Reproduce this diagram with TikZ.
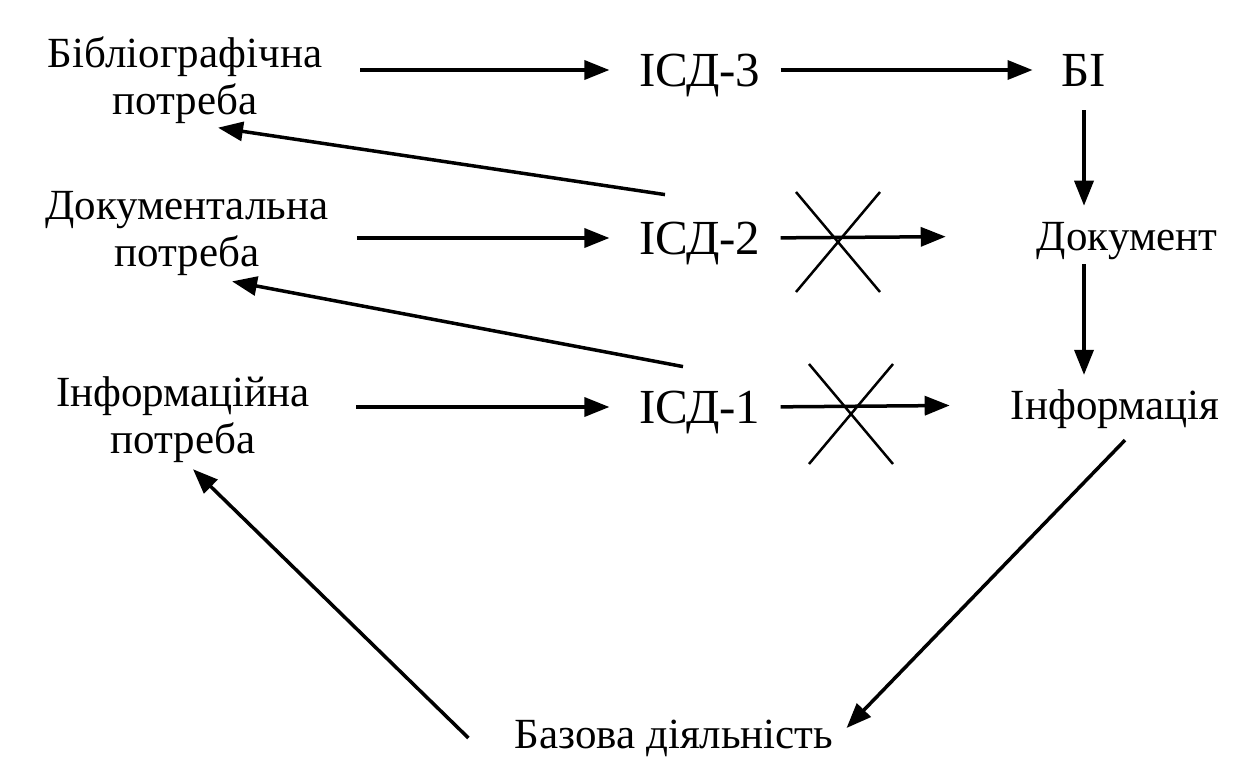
\documentclass[tikz,border=0pt]{standalone}
\usepackage{fontspec}
\setmainfont{Liberation Serif}
\usetikzlibrary{arrows.meta}

\begin{document}
\begin{tikzpicture}[x=1pt,y=-1pt,
  need/.style={font=\fontsize{43}{47}\selectfont, align=center, inner sep=0pt},
  isd/.style={font=\fontsize{49}{54}\selectfont, inner sep=0pt, text depth=0pt},
  res/.style={font=\fontsize{43}{47}\selectfont, inner sep=0pt, text depth=0pt},
  flow/.style={line width=3.5pt, -{Triangle[length=25pt,width=19pt]}},
  cross/.style={line width=2.5pt}]
  \useasboundingbox (0,0) rectangle (1236,761);

  \node[need] (bibl) at (185,80) {Бібліографічна\\потреба};
  \node[need] (doc) at (187,233) {Документальна\\потреба};
  \node[need] (inf) at (183,420) {Інформаційна\\потреба};

  \node[isd] (isd3) at (700,70) {ІСД-3};
  \node[isd] (isd2) at (700,238) {ІСД-2};
  \node[isd] (isd1) at (700,407) {ІСД-1};

  \node[isd] (bi) at (1084,70) {БІ};
  \node[res] (dokument) at (1127,236) {Документ};
  \node[res] (informacia) at (1115,405) {Інформація};
  \node[res] (baza) at (674,734) {Базова діяльність};

  % rows
  \draw[flow, shorten <=38pt, shorten >=30pt] (bibl.east |- isd3.west) -- (isd3.west);
  \draw[flow, shorten <=20pt, shorten >=29pt] (isd3.east) -- (bi.west);
  \draw[flow, shorten <=28pt, shorten >=30pt] (doc.east |- isd2.west) -- (isd2.west);
  \draw[flow, shorten <=20pt, shorten >=91pt] (isd2.east) -- (dokument.west);
  \draw[flow, shorten <=46pt, shorten >=30pt] (inf.east |- isd1.west) -- (isd1.west);
  \draw[flow, shorten <=20pt, shorten >=61pt] (isd1.east) -- (informacia.west);

  % right column
  \draw[flow, shorten <=24pt, shorten >=16pt] (bi.south) -- (bi.south |- dokument.north);
  \draw[flow, shorten <=14pt, shorten >=15pt] (bi.south |- dokument.south) -- (bi.south |- informacia.north);

  % back links
  \draw[flow] ([shift={(-35,-27)}]isd2.north) -- ([shift={(33,4)}]bibl.south);
  \draw[flow] ([shift={(-17,-24)}]isd1.north) -- ([shift={(45,6)}]doc.south);
  \draw[flow] ([shift={(10,20)}]informacia.south) -- ([shift={(13,-6)}]baza.east);
  \draw[flow] ([shift={(-46,4)}]baza.west) -- ([shift={(10,6)}]inf.south);

  % blocked links
  \foreach \cx/\cy in {838/242, 851/414}
    \draw[cross] (\cx-42,\cy-50) -- (\cx+42,\cy+50) (\cx+42,\cy-50) -- (\cx-42,\cy+50);
\end{tikzpicture}
\end{document}
